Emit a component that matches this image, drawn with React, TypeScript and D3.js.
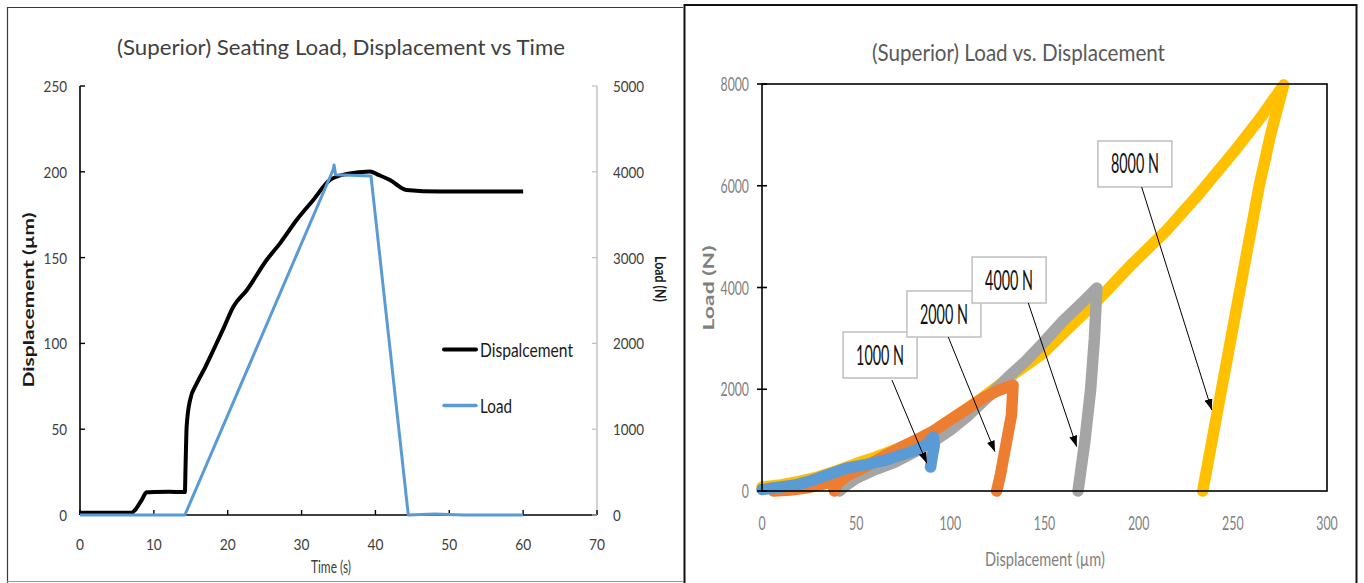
import React from "react";
import * as d3 from "d3";

// ---------- Seating test: displacement and load over time ----------
const timeDisp = [0, 7.0, 7.45, 8.35, 9.02, 10, 12, 14.2, 14.3, 14.44, 14.9, 15.8, 17.0, 18.05, 19.4, 20.76, 22.57, 25.27, 27.08, 29.33, 31.59, 33.85, 34.75, 36.1, 39.26, 40.4, 41.97, 44.2, 48.7, 60];
const displacement = [1.3, 1.3, 2.9, 8.7, 13.2, 13.4, 13.5, 13.4, 30, 51.5, 67, 76.6, 86.5, 96, 108.5, 121.4, 131, 148.6, 158.3, 171.9, 183.6, 195.3, 197.2, 198.7, 200.2, 198.2, 195.2, 189.4, 188.5, 188.5];
const timeLoad = [0, 14.2, 34.3, 34.4, 34.6, 39.4, 44.45, 48, 52, 60];
const load = [0, 0, 4030, 4080, 3965, 3950, 0, 12, 0, 0];

const timeTicks = [0, 10, 20, 30, 40, 50, 60, 70];
const dispTicks = [0, 50, 100, 150, 200, 250];
const loadTicks = [0, 1000, 2000, 3000, 4000, 5000];

// ---------- Load vs displacement, one loop per peak load ----------
const loopNames = ["8000 N", "4000 N", "2000 N", "1000 N"];
const loopColors = ["#FFC000", "#A5A5A5", "#ED7D31", "#5B9BD5"];
const loop8000Disp = [0, 10, 20, 30, 40, 50, 60, 75, 90, 100, 117, 133, 149, 162, 179, 197, 215, 232.5, 250, 265, 277, 270, 264, 259, 254, 249, 244, 239, 234];
const loop8000Load = [80, 120, 190, 280, 400, 540, 660, 870, 1150, 1400, 1830, 2280, 2700, 3170, 3780, 4480, 5130, 5860, 6640, 7350, 7980, 7000, 6000, 5000, 4000, 3000, 2000, 1000, 0];
const loop4000Disp = [41, 45, 50, 60, 70, 80, 90, 100, 110, 120, 131, 140, 149, 160, 170, 177.8, 176.5, 174.5, 171.5, 167.8];
const loop4000Load = [0, 120, 250, 420, 560, 750, 950, 1200, 1500, 1850, 2250, 2550, 2900, 3350, 3700, 3990, 3000, 2000, 1000, 0];
const loop2000Disp = [6, 15, 25, 33, 36.5, 38, 38.5, 40, 45, 55, 65, 75, 85, 91, 100, 110, 117.5, 125, 133.3, 132.5, 129, 126.5, 124.6];
const loop2000Load = [0, 20, 70, 140, 180, 60, 0, 150, 300, 480, 690, 880, 1060, 1180, 1400, 1640, 1830, 1970, 2080, 1500, 800, 300, 0];
const loop1000Disp = [0, 5, 10, 18, 25, 35, 45, 55, 65, 75, 82, 88, 91, 91.5, 90.5, 89.5];
const loop1000Load = [30, 55, 80, 120, 190, 320, 450, 520, 600, 720, 810, 930, 1060, 900, 700, 470];
const loopDisp = [loop8000Disp, loop4000Disp, loop2000Disp, loop1000Disp];
const loopLoad = [loop8000Load, loop4000Load, loop2000Load, loop1000Load];

const rDispTicks = [0, 50, 100, 150, 200, 250, 300];
const rLoadTicks = [0, 2000, 4000, 6000, 8000];

// callouts: label box centre and arrow from/to, in data units
const calloutText = ["1000 N", "2000 N", "4000 N", "8000 N"];
const calloutBoxDisp = [62.7, 96.6, 131.2, 198];
const calloutBoxLoad = [2673, 3479, 4147, 6428];
const arrowFromDisp = [69, 98.9, 141.4, 201.6];
const arrowFromLoad = [2182, 3027, 3695, 5975];
const arrowToDisp = [87.5, 123.7, 167.1, 238.8];
const arrowToLoad = [545, 772, 871, 1592];

const FONT = "Lato, 'Open Sans', sans-serif";

function SText({ x, y, sx, anchor, size, fill, weight, children }: any) {
  return (
    <text
      transform={`translate(${x},${y}) scale(${sx},1)`}
      textAnchor={anchor}
      fontSize={size}
      fill={fill}
      fontWeight={weight || "normal"}
      fontFamily={FONT}
    >
      {children}
    </text>
  );
}

function FText({ x, y, w, rot = 0, anchor = "middle", size, fill, weight, children }: any) {
  return (
    <text
      transform={`translate(${x},${y}) rotate(${rot})`}
      textAnchor={anchor}
      fontSize={size}
      fill={fill}
      fontWeight={weight || "normal"}
      fontFamily={FONT}
      textLength={w}
      lengthAdjust="spacingAndGlyphs"
    >
      {children}
    </text>
  );
}

export default function App() {
  // left chart scales
  const xL = d3.scaleLinear().domain([0, 70]).range([80, 597]);
  const yL = d3.scaleLinear().domain([0, 250]).range([515, 86]);
  const yL2 = d3.scaleLinear().domain([0, 5000]).range([515, 86]);

  const dispLine = d3
    .line<number>()
    .x((_, i) => xL(timeDisp[i]))
    .y((d) => yL(d))
    .curve(d3.curveMonotoneX);
  const loadLine = d3
    .line<number>()
    .x((_, i) => xL(timeLoad[i]))
    .y((d) => yL2(d));

  // right chart scales
  const xR = d3.scaleLinear().domain([0, 300]).range([762, 1327]);
  const yR = d3.scaleLinear().domain([0, 8000]).range([491, 84]);

  const loopPath = (k: number) =>
    d3
      .line<number>()
      .x((d) => xR(d))
      .y((_, i) => yR(loopLoad[k][i]))(loopDisp[k]) || "";

  return (
    <svg
      width={1364}
      height={583}
      style={{ position: "absolute", left: 0, top: 0, background: "#fff" }}
    >
      <defs>
        <marker
          id="arrowHead"
          markerWidth={11}
          markerHeight={8}
          refX={11}
          refY={4}
          orient="auto"
          markerUnits="userSpaceOnUse"
        >
          <path d="M0,0 L11,4 L0,8 z" fill="#000" />
        </marker>
      </defs>
      <rect x={0} y={0} width={1364} height={583} fill="#fff" />

      {/* ===== left panel ===== */}
      <path d="M7.5,583 V7.5 H683" fill="none" stroke="#3a3a3a" strokeWidth={1.2} />
      <line x1={7} x2={683} y1={581.5} y2={581.5} stroke="#9a9a9a" strokeWidth={1} />

      <FText x={341} y={55} w={448} size={22} fill="#404040">
        (Superior) Seating Load, Displacement vs Time
      </FText>

      {/* axes */}
      <line x1={xL(0)} x2={xL(70)} y1={yL(0)} y2={yL(0)} stroke="#000" strokeWidth={1.6} />
      <line x1={xL(0)} x2={xL(0)} y1={yL(0)} y2={yL(250)} stroke="#000" strokeWidth={1.6} />
      <line x1={xL(70)} x2={xL(70)} y1={yL(0)} y2={yL(250)} stroke="#BFBFBF" strokeWidth={1.4} />

      {dispTicks.map((t) => (
        <g key={"dt" + t}>
          <line x1={xL(0)} x2={xL(0) + 5} y1={yL(t)} y2={yL(t)} stroke="#000" strokeWidth={1.4} />
          <SText x={67} y={yL(t) + 6} sx={0.84} anchor="end" size={16} fill="#404040">
            {t}
          </SText>
        </g>
      ))}
      {timeTicks.map((t) => (
        <g key={"tt" + t}>
          <line x1={xL(t)} x2={xL(t)} y1={yL(0)} y2={yL(0) - 5} stroke="#000" strokeWidth={1.4} />
          <SText x={xL(t)} y={550} sx={0.86} anchor="middle" size={16} fill="#404040">
            {t}
          </SText>
        </g>
      ))}
      {loadTicks.map((t) => (
        <g key={"lt" + t}>
          <line x1={xL(70)} x2={xL(70) - 5} y1={yL2(t)} y2={yL2(t)} stroke="#BFBFBF" strokeWidth={1.2} />
          <SText x={613} y={yL2(t) + 6} sx={0.84} anchor="start" size={16} fill="#404040">
            {t}
          </SText>
        </g>
      ))}

      <FText x={34} y={300} w={175} rot={-90} size={16} fill="#1a1a1a" weight="bold">
        Displacement (µm)
      </FText>
      <FText x={655} y={279} w={46} rot={90} size={16} fill="#1a1a1a" weight="bold">
        Load (N)
      </FText>
      <FText x={331} y={573} w={40} size={16.5} fill="#404040">
        Time (s)
      </FText>

      {/* series */}
      <path d={dispLine(displacement) || ""} fill="none" stroke="#000" strokeWidth={4} strokeLinejoin="round" />
      <path d={loadLine(load) || ""} fill="none" stroke="#5B9BD5" strokeWidth={3} strokeLinejoin="round" />

      {/* legend */}
      <line x1={444} x2={476} y1={349.5} y2={349.5} stroke="#000" strokeWidth={4} strokeLinecap="round" />
      <FText x={480} y={356.5} w={93} anchor="start" size={18.5} fill="#1a1a1a">
        Dispalcement
      </FText>
      <line x1={444} x2={476} y1={405.5} y2={405.5} stroke="#5B9BD5" strokeWidth={3.5} strokeLinecap="round" />
      <FText x={480} y={412.5} w={32} anchor="start" size={18.5} fill="#1a1a1a">
        Load
      </FText>

      {/* ===== right panel ===== */}
      <rect x={684.5} y={5} width={672} height={600} fill="none" stroke="#111" strokeWidth={2} />

      <FText x={1018.5} y={61} w={293} size={24} fill="#595959">
        (Superior) Load vs. Displacement
      </FText>

      {/* loops */}
      {loopNames.map((n, k) => (
        <path
          key={n}
          d={loopPath(k)}
          fill="none"
          stroke={loopColors[k]}
          strokeWidth={11.5}
          strokeLinecap="round"
          strokeLinejoin="round"
        />
      ))}

      {/* plot frame and ticks */}
      <rect x={xR(0)} y={yR(8000)} width={xR(300) - xR(0)} height={yR(0) - yR(8000)} fill="none" stroke="#000" strokeWidth={1.6} />
      {rLoadTicks.map((t) => (
        <g key={"rl" + t}>
          <line x1={xR(0) - 5} x2={xR(0) + 5} y1={yR(t)} y2={yR(t)} stroke="#000" strokeWidth={1.6} />
          <SText x={749} y={yR(t) + 7} sx={0.63} anchor="end" size={19.5} fill="#7F7F7F">
            {t}
          </SText>
        </g>
      ))}
      {rDispTicks.map((t) => (
        <SText key={"rd" + t} x={xR(t)} y={530} sx={0.62} anchor="middle" size={20} fill="#7F7F7F">
          {t}
        </SText>
      ))}

      <FText x={714} y={288} w={85} rot={-90} size={16} fill="#7F7F7F" weight="bold">
        Load (N)
      </FText>
      <FText x={1045} y={566} w={120} size={18.5} fill="#7F7F7F">
        Displacement (µm)
      </FText>

      {/* callouts */}
      {calloutText.map((c, i) => {
        const cx = xR(calloutBoxDisp[i]);
        const cy = yR(calloutBoxLoad[i]);
        return (
          <g key={c}>
            <rect x={cx - 37} y={cy - 23} width={74} height={46} fill="#fff" stroke="#BFBFBF" strokeWidth={1.5} />
            <FText x={cx} y={cy + 9.5} w={48} size={26} fill="#111">
              {c}
            </FText>
          </g>
        );
      })}
      {calloutText.map((c, i) => (
        <line
          key={"a" + c}
          x1={xR(arrowFromDisp[i])}
          y1={yR(arrowFromLoad[i])}
          x2={xR(arrowToDisp[i])}
          y2={yR(arrowToLoad[i])}
          stroke="#000"
          strokeWidth={1}
          markerEnd="url(#arrowHead)"
        />
      ))}
    </svg>
  );
}
